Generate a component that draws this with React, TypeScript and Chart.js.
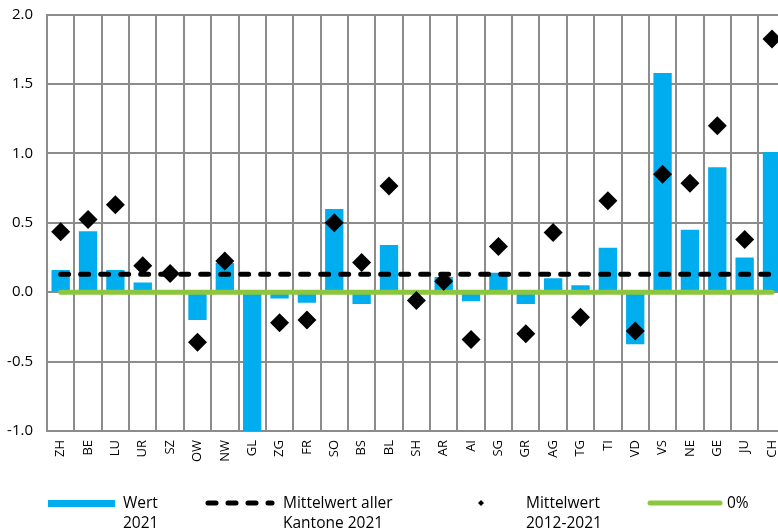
import React, { useEffect, useRef } from "react";
import { Chart, registerables } from "chart.js";

Chart.register(...registerables);

// ---- data ----
const cantons = [
  "ZH", "BE", "LU", "UR", "SZ", "OW", "NW", "GL", "ZG", "FR", "SO", "BS", "BL", "SH",
  "AR", "AI", "SG", "GR", "AG", "TG", "TI", "VD", "VS", "NE", "GE", "JU", "CH",
];
const wert2021 = [
  0.16, 0.44, 0.16, 0.07, 0.0, -0.2, 0.21, -1.06, -0.045, -0.075, 0.6, -0.085, 0.34, 0.0,
  0.11, -0.065, 0.14, -0.085, 0.1, 0.05, 0.32, -0.375, 1.58, 0.45, 0.9, 0.25, 1.01,
];
const mittelwert2012_2021 = [
  0.435, 0.525, 0.63, 0.19, 0.135, -0.36, 0.225, null, -0.22, -0.2, 0.5, 0.215, 0.765, -0.06,
  0.08, -0.34, 0.33, -0.3, 0.43, -0.18, 0.66, -0.28, 0.85, 0.785, 1.2, 0.38, 1.825,
];
const mittelwertAllerKantone2021 = 0.13;
const nullLinie = 0;
const yTicks = { min: -1, max: 2, step: 0.5 };

const legendItems = ["Wert", "2021", "Mittelwert aller", "Kantone 2021", "Mittelwert", "2012-2021", "0%"];

const FONT = "'Open Sans', 'DejaVu Sans', sans-serif";
const BLUE = "#00aeef";
const GREEN = "#8cc63f";
const GRID = "#8c8c8c";

const legendPlugin = {
  id: "customLegend",
  afterDraw(chart: any) {
    const ctx = chart.ctx as CanvasRenderingContext2D;
    ctx.save();
    ctx.fillStyle = "#000";
    ctx.font = `15.5px ${FONT}`;
    ctx.textBaseline = "alphabetic";
    ctx.textAlign = "left";
    // Wert 2021
    ctx.fillStyle = BLUE;
    ctx.fillRect(48, 500, 67, 7);
    ctx.fillStyle = "#000";
    ctx.fillText(legendItems[0], 123, 508);
    ctx.fillText(legendItems[1], 123, 528);
    // dashed
    ctx.strokeStyle = "#000";
    ctx.lineWidth = 5;
    ctx.lineCap = "round";
    ctx.setLineDash([8, 12]);
    ctx.beginPath();
    ctx.moveTo(208, 503);
    ctx.lineTo(272, 503);
    ctx.stroke();
    ctx.setLineDash([]);
    ctx.fillText(legendItems[2], 283, 508);
    ctx.fillText(legendItems[3], 283, 528);
    // diamond
    ctx.fillStyle = "#000";
    ctx.beginPath();
    ctx.moveTo(481, 500);
    ctx.lineTo(484, 503);
    ctx.lineTo(481, 506);
    ctx.lineTo(478, 503);
    ctx.closePath();
    ctx.fill();
    ctx.fillText(legendItems[4], 526, 508);
    ctx.fillText(legendItems[5], 526, 528);
    // green
    ctx.strokeStyle = GREEN;
    ctx.lineWidth = 5;
    ctx.beginPath();
    ctx.moveTo(650, 503);
    ctx.lineTo(720, 503);
    ctx.stroke();
    ctx.fillText(legendItems[6], 727, 508);
    ctx.restore();
  },
};

export default function App() {
  const ref = useRef<HTMLCanvasElement | null>(null);

  useEffect(() => {
    if (!ref.current) return;
    const chart = new Chart(ref.current, {
      type: "bar",
      data: {
        labels: cantons,
        datasets: [
          {
            type: "line",
            label: "Mittelwert 2012-2021",
            data: mittelwert2012_2021 as any,
            showLine: false,
            pointStyle: "rectRot",
            pointRadius: 9.5,
            pointHoverRadius: 9.5,
            pointBackgroundColor: "#000",
            pointBorderWidth: 0,
            borderWidth: 0,
            order: 0,
          },
          {
            type: "line",
            label: "Mittelwert aller Kantone 2021",
            data: cantons.map(() => mittelwertAllerKantone2021),
            borderColor: "#000",
            borderWidth: 5,
            borderDash: [8, 12],
            borderCapStyle: "round",
            pointRadius: 0,
            fill: false,
            order: 1,
          },
          {
            type: "line",
            label: "0%",
            data: cantons.map(() => nullLinie),
            borderColor: GREEN,
            borderWidth: 5,
            borderCapStyle: "round",
            pointRadius: 0,
            fill: false,
            order: 2,
          },
          {
            type: "bar",
            label: "Wert 2021",
            data: wert2021,
            backgroundColor: BLUE,
            categoryPercentage: 1,
            barPercentage: 0.67,
            order: 3,
          },
        ],
      },
      options: {
        responsive: false,
        animation: false,
        events: [],
        layout: { padding: { left: 0, right: 14.3, top: 14.7, bottom: 39 } },
        plugins: { legend: { display: false }, tooltip: { enabled: false } },
        scales: {
          x: {
            grid: { color: GRID, lineWidth: 2, drawTicks: false, offset: true },
            border: { color: GRID, width: 2 },
            ticks: {
              color: "#000",
              font: { family: FONT, size: 13 },
              minRotation: 90,
              maxRotation: 90,
              autoSkip: false,
              padding: 9,
            },
            afterFit(scale: any) {
              scale.height = 60;
              scale.paddingLeft = 0;
              scale.paddingRight = 0;
            },
          },
          y: {
            min: yTicks.min,
            max: yTicks.max,
            grid: { color: GRID, lineWidth: 2, drawTicks: false },
            border: { color: GRID, width: 2 },
            ticks: {
              stepSize: yTicks.step,
              color: "#000",
              font: { family: FONT, size: 15 },
              padding: 14,
              callback: (v: any) => Number(v).toFixed(1),
            },
            afterFit(scale: any) {
              scale.width = 47;
              scale.paddingTop = 0;
              scale.paddingBottom = 0;
            },
          },
        },
      },
      plugins: [legendPlugin],
    });
    return () => chart.destroy();
  }, []);

  return (
    <div style={{ position: "fixed", left: 0, top: 0, width: 778, height: 530, overflow: "hidden", background: "#fff" }}>
      <canvas ref={ref} width={800} height={530} style={{ display: "block" }} />
    </div>
  );
}
